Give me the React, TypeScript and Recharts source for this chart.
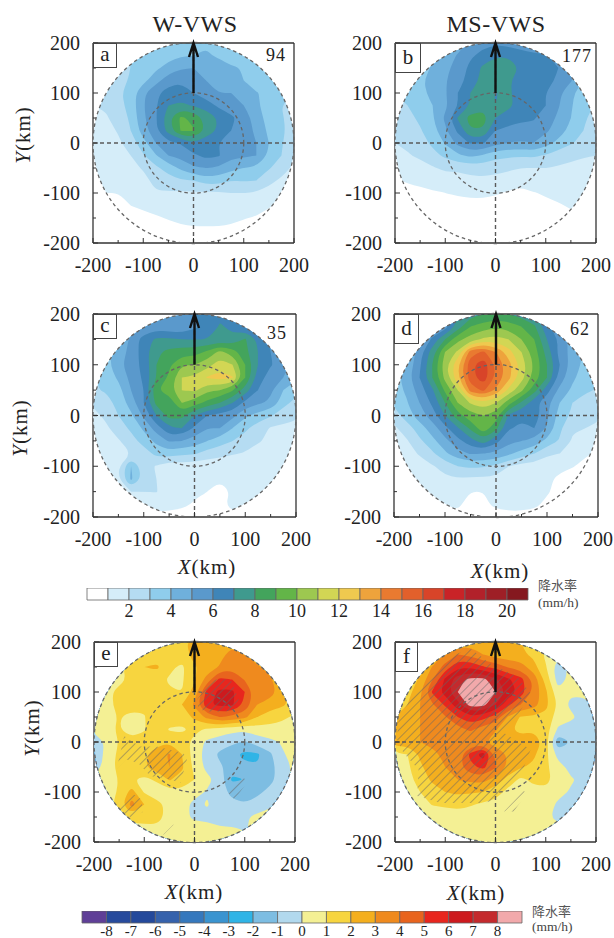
import React from "react";
import { Bar, BarChart, ReferenceDot, Scatter, ScatterChart, XAxis, YAxis } from "recharts";

const SERIF = "'Liberation Serif', 'Times New Roman', serif";

// rain rate (mm/h) on a 25 km grid, rows y = 200 .. -200, columns x = -200 .. 200
const gridA = [
  [3, 3, 3, 3, 3, 3.4, 3.6, 3.8, 3.9, 3.9, 3.7, 3.4, 3.3, 3, 3, 3, 3],
  [2, 2, 2.5, 3, 3.2, 3.4, 3.6, 3.9, 4, 4.1, 3.9, 3.3, 3.7, 3.6, 3, 3, 3],
  [2, 2, 2.6, 3, 3.3, 3.8, 4.4, 4.9, 5, 4.6, 4.3, 4.2, 3.9, 3.5, 3.3, 3, 3],
  [2, 2, 2.7, 3.1, 3.7, 4.6, 5.6, 5.9, 5.5, 5, 4.6, 4.3, 4, 3.2, 3.4, 3.2, 3],
  [2, 2.2, 2.8, 3.4, 4.8, 5.8, 6.4, 6.3, 6, 5.4, 5, 5, 4.9, 4.1, 3.6, 3.4, 3],
  [2, 2.1, 2.6, 3.4, 4.9, 5.9, 7, 7.3, 6.9, 6.6, 5.8, 5.4, 5, 4.2, 3.5, 3, 2.8],
  [1.8, 1.9, 2.3, 3.2, 4.8, 5.9, 7.7, 9.2, 8.7, 7.6, 6.9, 6.2, 5.6, 4.5, 3.6, 3.1, 2.6],
  [1.4, 1.6, 2.1, 3, 4.5, 5.8, 7.4, 9.1, 9.1, 7.8, 6.8, 6, 5.7, 4.7, 3.8, 3.2, 2.5],
  [1.2, 1.4, 1.8, 2.5, 3.6, 5, 5.7, 6.1, 6.9, 6.3, 6, 5.6, 5.4, 5, 4, 3.1, 2.3],
  [1.2, 1.3, 1.6, 2, 2.9, 3.9, 5, 5.3, 5.8, 6.3, 6.1, 5.3, 5.2, 5, 3.8, 3, 2.1],
  [1.1, 1.2, 1.4, 1.7, 2.1, 2.8, 3.4, 4.2, 4.9, 5, 4.9, 4.3, 4, 3.8, 3.1, 2.5, 1.8],
  [1.1, 1.1, 1.2, 1.4, 1.7, 2.3, 2.6, 2.9, 3, 3.5, 3.4, 3, 3.1, 3, 2.3, 1.8, 1.4],
  [1, 1, 1, 1.2, 1.5, 1.9, 1.9, 1.8, 1.9, 1.8, 1.9, 2, 2, 1.9, 1.6, 1.2, 1.1],
  [0.6, 0.7, 0.8, 1, 1.2, 1.3, 1.4, 1.4, 1.5, 1.5, 1.5, 1.6, 1.5, 1.5, 1.1, 0.9, 0.7],
  [0.5, 0.5, 0.5, 0.6, 0.7, 0.9, 1.05, 1.2, 1.3, 1.3, 1.3, 1.25, 1.05, 0.9, 0.6, 0.5, 0.5],
  [0.4, 0.4, 0.4, 0.4, 0.5, 0.6, 0.7, 0.8, 0.85, 0.85, 0.85, 0.75, 0.6, 0.5, 0.4, 0.4, 0.4],
  [0.4, 0.4, 0.4, 0.4, 0.4, 0.4, 0.4, 0.4, 0.4, 0.4, 0.4, 0.4, 0.4, 0.4, 0.4, 0.4, 0.4],
];

const gridB = [
  [4, 4, 4, 4, 4, 4.5, 5.2, 5.6, 5.8, 5.6, 5.3, 5, 5, 4, 4, 4, 4],
  [3.5, 3.5, 3.5, 4, 4.4, 5.1, 5.8, 6.4, 6.9, 6.9, 6.6, 6.3, 6.1, 5.6, 4.5, 4, 4],
  [3.4, 3.4, 3.6, 4.1, 4.8, 5.3, 6.3, 7.2, 7.5, 7.5, 6.9, 6.4, 6.2, 6, 5.4, 4, 3.6],
  [3.2, 3.4, 3.8, 4.4, 4.9, 5.7, 6.3, 7.4, 7.4, 7.2, 6.4, 6.3, 6.2, 5.9, 5.1, 4, 3.4],
  [3, 3.2, 3.8, 4.2, 4.9, 6, 7, 7.5, 6.95, 7.2, 6.5, 6.1, 6, 5.3, 4.2, 3.5, 3],
  [2.8, 3, 3.5, 4, 4.8, 6, 7.1, 7.6, 7, 7.2, 6.7, 6.2, 6, 5.1, 4.1, 3.4, 2.9],
  [2.3, 2.7, 3.2, 3.9, 5.2, 7.1, 8.4, 8.4, 7, 6.6, 6.3, 6.1, 5.6, 4.8, 4, 3.2, 2.5],
  [2.1, 2.4, 2.9, 3.6, 4.8, 6.2, 7.9, 7.9, 6, 5.7, 5.4, 5.7, 5.2, 4.5, 3.7, 3, 2.4],
  [2, 2.2, 2.6, 3.2, 4.1, 5.3, 6.1, 6.1, 5.3, 5, 4.9, 5, 4.4, 3.7, 3.1, 2.7, 2.3],
  [1.7, 1.9, 2.2, 2.7, 3.2, 3.8, 4.2, 3.9, 3.3, 3.2, 3.1, 3.2, 2.9, 2.5, 2.2, 2.1, 2],
  [1.2, 1.4, 1.6, 1.9, 2.2, 2.2, 2.4, 2.4, 2.3, 2.2, 2, 2, 2, 1.9, 1.8, 1.6, 1.5],
  [0.9, 1.1, 1.2, 1.35, 1.5, 1.6, 1.7, 1.8, 1.7, 1.5, 1.2, 1.4, 1.6, 1.6, 1.5, 1.4, 1.3],
  [0.7, 0.7, 0.8, 0.9, 1, 1.1, 1.2, 1.2, 1.1, 0.9, 0.85, 0.95, 1.1, 1.3, 1.3, 1.2, 1.1],
  [0.4, 0.4, 0.5, 0.5, 0.6, 0.7, 0.7, 0.7, 0.6, 0.6, 0.6, 0.6, 0.8, 0.9, 1.1, 1.1, 1],
  [0.3, 0.3, 0.3, 0.3, 0.3, 0.3, 0.3, 0.3, 0.3, 0.3, 0.3, 0.3, 0.4, 0.6, 0.8, 0.8, 0.8],
  [0.3, 0.3, 0.3, 0.3, 0.3, 0.3, 0.3, 0.3, 0.3, 0.3, 0.3, 0.3, 0.3, 0.3, 0.3, 0.3, 0.3],
  [0.3, 0.3, 0.3, 0.3, 0.3, 0.3, 0.3, 0.3, 0.3, 0.3, 0.3, 0.3, 0.3, 0.3, 0.3, 0.3, 0.3],
];

const gridC = [
  [4, 4, 4, 4, 4.5, 5, 5.2, 5.6, 6, 6.4, 6.8, 6.4, 5.8, 5, 4, 4, 4],
  [4, 4, 4, 4.5, 5, 5.5, 5.2, 5.2, 5.8, 6.3, 7.1, 6.8, 6.2, 5.6, 5, 4.5, 4],
  [3.5, 3.8, 4.2, 5.2, 6.5, 7.2, 7.2, 7, 7, 7, 7.2, 7.2, 8.1, 6.8, 5.8, 5, 4.5],
  [3.2, 3.5, 4.5, 5.3, 6.5, 7.8, 8.3, 8.5, 8.6, 9.2, 10.3, 9.5, 8.3, 7, 6, 5.2, 4.6],
  [3, 3.6, 4.7, 5.5, 6.3, 8, 8.8, 9.9, 10, 10.6, 11.5, 11, 9, 7, 6.1, 5.5, 4.5],
  [2.9, 3.3, 4.2, 5.3, 6.2, 8, 9.2, 11, 11.2, 12.1, 12.4, 12.1, 9, 6.5, 5.5, 5, 4.2],
  [2.9, 3.1, 3.6, 5, 6, 8.9, 9.5, 11, 11.2, 10.2, 10, 9.1, 7.5, 6, 5.2, 4, 3.5],
  [2.2, 2.6, 3.3, 4.5, 6, 8.3, 8.4, 10, 9.5, 8.7, 8, 7, 5.7, 5.2, 4.8, 3.4, 2.6],
  [1.7, 2.2, 3, 3.8, 5.2, 7, 8.4, 8.3, 7, 6, 5.6, 5.3, 4.2, 3.6, 3.1, 2.4, 2.2],
  [1.6, 1.8, 2.5, 3.2, 4.2, 5.5, 6.8, 7, 5.8, 5, 5, 4, 3.2, 2.5, 1.9, 1.8, 1.7],
  [1.4, 1.5, 1.9, 2.6, 3.4, 4.3, 5.1, 5, 4.6, 4, 3.5, 3, 2.6, 2.1, 1.8, 1.7, 1.6],
  [1.3, 1.4, 1.7, 2, 2.5, 3.3, 3.5, 3.2, 3.1, 2.6, 2.3, 2.1, 1.9, 1.6, 1.5, 1.4, 1.3],
  [1.3, 1.4, 1.9, 4, 2.4, 1.9, 1.4, 1.4, 1.4, 1.3, 1.3, 1.2, 1.2, 1.2, 1.2, 1.2, 1.2],
  [1.2, 1.2, 1.9, 4.2, 2.6, 2, 1.3, 1.3, 1.2, 1.2, 1.1, 1.1, 1.2, 1.3, 1.3, 1.3, 1.2],
  [1.2, 1.2, 1.5, 2, 2, 2.05, 1.5, 1.3, 1.1, 1, 0.7, 1.1, 1.3, 1.3, 1.5, 1.2, 1.2],
  [1, 1, 1.1, 1.2, 1.3, 1.3, 1.2, 1.1, 0.95, 0.6, 0.8, 1.2, 1.2, 1.2, 1.1, 1, 1],
  [0.8, 0.8, 0.8, 0.8, 0.8, 0.8, 0.8, 0.8, 0.8, 0.8, 0.8, 0.8, 0.8, 0.8, 0.8, 0.8, 0.8],
];

const gridD = [
  [5, 5, 5, 5.5, 6, 7, 7.5, 8, 8.2, 8, 7.5, 7, 6, 5, 5, 5, 5],
  [4.5, 4.5, 4.5, 5, 5.5, 7.5, 9, 9.5, 9.8, 9.6, 9, 8.2, 6.3, 5, 4.5, 4.5, 4],
  [4.2, 4.2, 4.5, 6.2, 8, 9.7, 10.5, 11.2, 11.4, 11, 10, 9, 7, 5.8, 4.5, 4, 3.8],
  [4, 4, 5.5, 7.5, 10, 11.2, 14.5, 15.2, 14, 12.4, 11, 9.5, 7.6, 5.6, 4.6, 3.8, 3.6],
  [3.6, 4.2, 5.8, 8, 10.6, 12.8, 15.7, 16.6, 14.8, 13.4, 11.6, 9.8, 8, 6, 4.5, 3.7, 3.4],
  [3.5, 4.5, 6, 8, 10.3, 12.8, 15.6, 16.6, 14.8, 13.3, 11.4, 9.6, 8, 5.6, 4.2, 3.5, 3.2],
  [3.5, 4.2, 5.5, 6.8, 9.2, 11, 14.4, 15.2, 13.8, 11.7, 10.2, 8.4, 6.4, 4.7, 3.8, 3.2, 2.9],
  [3.2, 3.9, 5, 6.2, 8, 10, 11.1, 11.7, 11, 9.4, 7.8, 6.4, 5.3, 4, 3, 2.5, 2.2],
  [2.5, 3.5, 4.5, 5.5, 7, 8.6, 9.6, 10, 9.5, 6.8, 6.2, 6.6, 5.2, 3.5, 2.8, 2.3, 2.1],
  [1.8, 2.5, 3.5, 4.5, 5.7, 6.9, 8.2, 9.7, 8.3, 6.1, 5.8, 6, 4.9, 3.2, 2.1, 2, 1.9],
  [1.5, 1.9, 2.8, 3.7, 4.7, 5.7, 6.6, 7.6, 6.3, 5.3, 5, 4.7, 3.7, 2.9, 1.9, 1.8, 1.8],
  [1.3, 1.6, 2.1, 2.8, 3.8, 4.6, 5.1, 5, 4.8, 4.2, 3.6, 3, 2.2, 2, 1.7, 1.1, 0.9],
  [1.1, 1.3, 1.6, 1.9, 2.4, 3, 3.2, 3.1, 2.8, 2, 1.6, 1.5, 1.3, 1.2, 1.05, 0.8, 0.7],
  [1, 1.1, 1.4, 1.6, 1.8, 1.9, 1.8, 1.8, 1.7, 1.4, 1.3, 1.3, 1.15, 0.85, 0.6, 0.6, 0.5],
  [0.9, 1, 1.2, 1.3, 1.3, 1.3, 1, 1, 1.2, 1.25, 1.3, 1.2, 1.05, 0.85, 0.6, 0.5, 0.4],
  [0.8, 0.9, 1, 1.1, 1.1, 1.1, 0.8, 0.9, 1.1, 1.2, 1.2, 1.1, 0.9, 0.7, 0.5, 0.4, 0.4],
  [0.8, 0.8, 0.8, 0.8, 0.8, 0.8, 0.8, 0.8, 0.8, 0.8, 0.8, 0.8, 0.8, 0.6, 0.4, 0.4, 0.4],
];

// rain rate difference (mm/h)
const gridE = [
  [1, 1, 1, 1, 1.1, 1.3, 1.5, 1.8, 2.3, 2.6, 2.5, 2.5, 2.2, 1.5, 1, 1, 1],
  [0.8, 0.8, 0.9, 1, 1.2, 1.4, 1.5, 1.6, 2.3, 2.8, 2.6, 3.5, 3.2, 1.8, 1.2, 1, 1],
  [0.8, 0.8, 0.9, 1.2, 2, 2.2, 1.2, 0.8, 1.9, 2.4, 3.1, 3.6, 3.7, 3.2, 2.6, 1.5, 1],
  [0.8, 0.8, 0.9, 1.1, 1.2, 1.3, 0.9, 0.85, 1.9, 3.4, 5.3, 5, 3.9, 3.2, 3.2, 2.2, 1.5],
  [0.8, 0.9, 1.1, 1.4, 1.4, 1.2, 1.1, 1, 2.4, 5.4, 6.2, 6.2, 5, 3.2, 3.4, 2.5, 1.8],
  [0.7, 0.9, 1.1, 1.4, 1.3, 1.4, 1.6, 2, 3.2, 5.8, 6.3, 6.2, 4.7, 3, 2.6, 2.2, 1.4],
  [0.6, 0.7, 1.05, 0.7, 0.9, 2, 1.5, 1.5, 2.2, 3.3, 4, 3.8, 3.3, 2, 1.4, 1.1, 0.9],
  [0.3, 0.9, 1.05, 0.6, 0.9, 1.8, 0.9, 0.8, 1.3, 0.8, 0.6, 0.3, 0.2, 0.5, 0.7, 0.8, 0.9],
  [-0.7, 0.2, 1.05, 1.3, 1.5, 1.6, 1.9, 1.6, 0.6, -0.2, -0.5, -0.8, -1.1, -0.5, -0.3, 0.1, 0.4],
  [-0.5, 0.2, 1.3, 1.4, 1.8, 2.6, 3.1, 2, 0.5, -0.4, -1.2, -1.7, -2.3, -2.2, -1.2, -0.1, 0.3],
  [-0.4, 0.3, 1.4, 1.3, 1.9, 2.5, 3, 2.2, 0.7, -0.3, -0.8, -1.5, -1.7, -1.9, -1.4, -0.4, 0.2],
  [0.3, 0.5, 1.05, 1.1, 0.7, 1.2, 2.1, 1.6, 1, 0.3, -0.4, -2.2, -2, -1.8, -1.4, -0.3, 0.3],
  [0.5, 0.6, 1.1, 2.4, 0.9, 0.3, 0.6, 0.7, 0.4, -0.1, -0.7, -1.2, -1.6, -1.3, -0.6, -0.1, 0.3],
  [0.5, 0.6, 1.4, 3.4, 2, 1.4, 0.6, 0.4, -0.3, 0.1, -0.5, -0.8, -0.9, -0.5, -0.1, 0.2, 0.4],
  [0.5, 0.6, 0.8, 1.4, 1.5, 1.4, 0.6, 0.3, -0.2, -0.3, -0.9, -0.7, -0.1, 0.2, 0.2, 0.3, 0.4],
  [0.5, 0.5, 0.5, 0.5, 0.6, 0.7, 0.5, 0.4, 0.5, 0.5, 0.3, 0.2, -0.1, 0.3, 0.4, 0.4, 0.4],
  [0.5, 0.5, 0.5, 0.5, 0.5, 0.5, 0.5, 0.5, 0.5, 0.5, 0.5, 0.5, 0.5, 0.5, 0.5, 0.5, 0.5],
];

const gridF = [
  [1, 1, 1, 1.2, 1.5, 2, 2.5, 2.4, 2.2, 2.2, 2, 1.5, 1, 0.6, 0.5, 0.5, 0.5],
  [1, 1, 1.2, 1.8, 3.2, 4, 3.7, 3, 2.5, 2.3, 2.2, 1.8, 0.8, 0.4, 0.5, 0.5, 0.5],
  [1, 1.1, 1.8, 3.1, 4.4, 5.8, 5.8, 5.1, 4.7, 3.9, 3.5, 2.4, 1.1, -0.6, 0.3, 0.5, 0.5],
  [1, 1.2, 2.2, 4, 6.2, 7.6, 8.3, 8.4, 7.2, 6.2, 5.4, 3.8, 1.6, -0.5, 0.3, 0.6, 0.6],
  [1, 1.6, 2.8, 5.2, 6.4, 8, 8.9, 8.8, 8, 6.7, 5.6, 3.8, 2.2, 0.3, 0.2, 0.4, 0.6],
  [1.5, 2, 3, 3.9, 5.2, 6.6, 8.5, 8.4, 7, 5.3, 4, 3.5, 2.3, 0.8, -0.3, -0.5, 0.2],
  [2, 2.4, 3, 3.4, 3.9, 5, 5.7, 5.4, 4.6, 2.9, 1.9, 1.8, 1.7, 0.5, 0.3, -0.5, -0.4],
  [2.4, 2.7, 3, 3.2, 3.3, 3.6, 4.2, 3.5, 3.1, 2.2, 1.7, 1.8, 1.5, -0.2, -0.6, -0.7, -0.8],
  [2.6, 2.6, 3, 3.1, 3.3, 3.5, 3, 3.2, 2.5, 2.2, 2.5, 2.8, 1.5, -1.8, -1, -0.7, -0.6],
  [0.7, 1, 2.2, 2.9, 3.1, 3.3, 5.3, 6.5, 3.7, 2.9, 2.7, 2.2, 1.3, -0.4, -0.5, -0.6, -0.3],
  [0.5, 0.8, 1.8, 2.6, 3, 3.6, 4.7, 5.3, 4.1, 2.8, 2.1, 1.8, 1.2, 0.4, -0.3, -0.5, -0.1],
  [0.5, 0.6, 1.5, 2.2, 2.9, 3, 3.3, 3.3, 2.7, 1.6, 0.8, 1.2, 1.4, 0.4, 0.1, -0.2, 0.2],
  [0.5, 0.5, 1, 1.6, 2, 2.2, 2.1, 2, 1.4, 0.7, 0.5, 0.7, 0.6, 0.3, -0.1, -0.4, 0.2],
  [0.5, 0.5, 0.7, 1.05, 1.15, 1.3, 1.1, 0.8, 0.7, 0.5, 0.5, 0.5, 0.5, -0.2, -0.6, -0.3, 0.2],
  [0.5, 0.5, 0.5, 0.5, 0.5, 0.5, 0.5, 0.5, 0.5, 0.5, 0.5, 0.5, 0.3, -0.4, -0.6, -0.2, 0.2],
  [0.5, 0.5, 0.5, 0.5, 0.5, 0.5, 0.5, 0.5, 0.5, 0.5, 0.5, 0.5, 0.5, 0.5, 0.5, 0.5, 0.5],
  [0.5, 0.5, 0.5, 0.5, 0.5, 0.5, 0.5, 0.5, 0.5, 0.5, 0.5, 0.5, 0.5, 0.5, 0.5, 0.5, 0.5],
];

// hatched (significant) regions in km
const hatchE = [
  [[-155, -55], [-140, 12], [-108, -9], [-75, -9], [-22, -22], [-15, -35], [-28, -82], [-48, -75], [-88, -68], [-112, -42], [-135, -35]],
  [[-148, -125], [-125, -102], [-105, -115], [-103, -140], [-125, -152], [-148, -135]],
  [[-62, -185], [-42, -165], [-38, -170], [-58, -190]],
  [[5, 85], [35, 125], [72, 125], [88, 85], [75, 62], [35, 60], [8, 65]],
  [[65, -100], [95, -68], [105, -80], [80, -115]],
];
const hatchF = [
  [[-196, 5], [-193, 44], [-163, 98], [-130, 131], [-90, 171], [-50, 187], [-10, 157], [43, 131], [70, 98], [43, 51], [17, 18], [70, -15], [50, -68], [3, -115], [-23, -122], [-110, -122], [-156, -108], [-153, -55], [-183, -22]],
  [[17, -139], [56, -98], [63, -102], [36, -139]],
];

const rainColors = ["#ffffff", "#d5edf9", "#b5dcf2", "#8fcdec", "#6fb0dc", "#5a99cc", "#3f85b8", "#3f9a8e", "#43a45c", "#63b548", "#9dc850", "#d2d654", "#efc94f", "#eea33c", "#e97a30", "#e2602b", "#d84429", "#c92327", "#b2212a", "#9e1f26", "#85181f"];
const diffColors = ["#5f3f97", "#274a9c", "#24499b", "#3662ac", "#3578bd", "#3a94d0", "#2fb4e6", "#7dbde2", "#b2d9ee", "#f4f094", "#f7d53f", "#f4af1e", "#ef8a1e", "#e8641e", "#e8261e", "#cd1a1e", "#c42a2d", "#f2a9ab"];
const rainTicks = [2, 4, 6, 8, 10, 12, 14, 16, 18, 20];
const diffTicks = [-8, -7, -6, -5, -4, -3, -2, -1, 0, 1, 2, 3, 4, 5, 6, 7, 8];
const axisTicks = [-200, -150, -100, -50, 0, 50, 100, 150, 200];

const ML = 60;
const MT = 10;
const MR = 20;
const MB = 35;

type Pt = { x: number | null; y: number | null };

const km = (i: number) => Math.max(-200, Math.min(200, -200 + i * 25));

// rings of the region value >= level, split by null points
function contourPoints(grid: number[][], level: number): Pt[] {
  const n = 19;
  const val = (r: number, c: number) => (r < 1 || c < 1 || r > 17 || c > 17 ? -100 : grid[r - 1][c - 1]);
  const toXY = (r: number, c: number) => [km(c - 1), km(17 - r)];
  const cross = new Map<string, number[]>();
  const links = new Map<string, string[]>();
  const crossing = (r1: number, c1: number, r2: number, c2: number) => {
    const key = `${r1},${c1},${r2},${c2}`;
    if (!cross.has(key)) {
      const a = val(r1, c1);
      const b = val(r2, c2);
      const t = (level - a) / (b - a);
      const p = toXY(r1, c1);
      const q = toXY(r2, c2);
      cross.set(key, [p[0] + (q[0] - p[0]) * t, p[1] + (q[1] - p[1]) * t]);
    }
    return key;
  };
  const link = (a: string, b: string) => {
    links.set(a, [...(links.get(a) || []), b]);
    links.set(b, [...(links.get(b) || []), a]);
  };
  for (let r = 0; r < n - 1; r++) {
    for (let c = 0; c < n - 1; c++) {
      const tl = val(r, c) >= level;
      const tr = val(r, c + 1) >= level;
      const br = val(r + 1, c + 1) >= level;
      const bl = val(r + 1, c) >= level;
      const edges: string[] = [];
      if (tl !== tr) edges.push(crossing(r, c, r, c + 1));
      if (tr !== br) edges.push(crossing(r, c + 1, r + 1, c + 1));
      if (br !== bl) edges.push(crossing(r + 1, c, r + 1, c + 1));
      if (bl !== tl) edges.push(crossing(r, c, r + 1, c));
      if (edges.length === 2) link(edges[0], edges[1]);
      if (edges.length === 4) {
        link(edges[0], edges[3]);
        link(edges[1], edges[2]);
      }
    }
  }
  const seen = new Set<string>();
  const out: Pt[] = [];
  links.forEach((_, start) => {
    if (seen.has(start)) return;
    let cur: string | undefined = start;
    while (cur && !seen.has(cur)) {
      seen.add(cur);
      const p = cross.get(cur) as number[];
      out.push({ x: p[0], y: p[1] });
      cur = (links.get(cur) as string[]).find((k) => !seen.has(k));
    }
    out.push({ x: null, y: null });
  });
  return out;
}

// smooth closed path through the rings, drawn from the pixel points the scatter hands over
function ringsPath(points: any[], smooth: boolean) {
  const rings: number[][][] = [];
  let ring: number[][] = [];
  points.forEach((p) => {
    if (p.x == null || p.y == null) {
      if (ring.length) rings.push(ring);
      ring = [];
    } else {
      ring.push([p.x, p.y]);
    }
  });
  if (ring.length) rings.push(ring);
  return rings
    .map((rg) => {
      if (!smooth) return "M" + rg.map((p) => p.join(",")).join("L") + "Z";
      const mid = (a: number[], b: number[]) => [(a[0] + b[0]) / 2, (a[1] + b[1]) / 2];
      const first = mid(rg[rg.length - 1], rg[0]);
      let d = `M${first[0]},${first[1]}`;
      rg.forEach((p, i) => {
        const m = mid(p, rg[(i + 1) % rg.length]);
        d += `Q${p[0]},${p[1]} ${m[0]},${m[1]}`;
      });
      return d + "Z";
    })
    .join("");
}

const noDot = () => <g />;

function guide(key: string, data: Pt[], stroke: string, width: number, dash?: string) {
  return (
    <Scatter
      key={key}
      data={data}
      isAnimationActive={false}
      shape={noDot}
      line={(lp: any) => {
        const [a, b] = lp.points;
        return <path d={`M${a.x},${a.y}L${b.x},${b.y}`} fill="none" stroke={stroke} strokeWidth={width} strokeDasharray={dash} />;
      }}
    />
  );
}

function Tick({ x, y, payload, horizontal }: any) {
  const v = payload.value;
  const major = v % 100 === 0;
  const len = major ? 5 : 3;
  return horizontal ? (
    <g>
      <line x1={x} x2={x} y1={y} y2={y - len} stroke="#333" />
      {major && (
        <text x={x} y={y + 29} textAnchor="middle" fontFamily={SERIF} fontSize={20} fill="#222">
          {v}
        </text>
      )}
    </g>
  ) : (
    <g>
      <line x1={x} x2={x + len} y1={y} y2={y} stroke="#333" />
      {major && (
        <text x={x - 13} y={y + 7} textAnchor="end" fontFamily={SERIF} fontSize={20} fill="#222">
          {v}
        </text>
      )}
    </g>
  );
}

function Panel({ id, grid, base, colors, left, top, w, h, hatch, letter, boxW, boxH, count, countX, countY }: any) {
  const cx = ML + w / 2;
  const cy = MT + h / 2;
  const clip = `clip-${id}`;
  const levels = colors.map((_: string, i: number) => i + base);
  const hatchData: Pt[] = [];
  (hatch || []).forEach((poly: number[][]) => {
    poly.forEach((p) => hatchData.push({ x: p[0], y: p[1] }));
    hatchData.push({ x: null, y: null });
  });
  return (
    <>
      <svg width={0} height={0} style={{ position: "absolute" }}>
        <defs>
          <clipPath id={clip}>
            <circle cx={cx} cy={cy} r={w / 2} />
          </clipPath>
          <pattern id={`hatch-${id}`} width={6} height={6} patternUnits="userSpaceOnUse" patternTransform="rotate(45)">
            <line x1={0} x2={0} y1={0} y2={6} stroke="#666" strokeWidth={1} />
          </pattern>
        </defs>
      </svg>
      <div style={{ position: "absolute", left: left - ML, top: top - MT }}>
        <ScatterChart width={w + ML + MR} height={h + MT + MB} margin={{ top: MT, right: MR, bottom: 0, left: 0 }}>
          <XAxis
            type="number"
            dataKey="x"
            domain={[-200, 200]}
            ticks={axisTicks}
            interval={0}
            height={MB}
            tickSize={0}
            tickMargin={0}
            tickLine={false}
            stroke="#333"
            strokeWidth={1.3}
            tick={(p: any) => <Tick {...p} horizontal />}
          />
          <YAxis
            type="number"
            dataKey="y"
            domain={[-200, 200]}
            ticks={axisTicks}
            interval={0}
            width={ML}
            tickSize={0}
            tickMargin={0}
            tickLine={false}
            stroke="#333"
            strokeWidth={1.3}
            tick={(p: any) => <Tick {...p} />}
          />
          {levels.map((lv: number, i: number) => (
            <Scatter
              key={lv}
              data={contourPoints(grid, lv)}
              isAnimationActive={false}
              shape={noDot}
              line={(lp: any) => (
                <path d={ringsPath(lp.points, true)} fill={colors[i]} fillRule="evenodd" stroke="none" clipPath={`url(#${clip})`} />
              )}
            />
          ))}
          {hatchData.length > 0 && (
            <Scatter
              data={hatchData}
              isAnimationActive={false}
              shape={noDot}
              line={(lp: any) => (
                <path d={ringsPath(lp.points, false)} fill={`url(#hatch-${id})`} stroke="none" clipPath={`url(#${clip})`} />
              )}
            />
          )}
          {guide("v", [{ x: 0, y: -200 }, { x: 0, y: 200 }], "#5a5a5a", 1.4, "4 3")}
          {guide("h", [{ x: -200, y: 0 }, { x: 200, y: 0 }], "#5a5a5a", 1.4, "4 3")}
          {guide("top", [{ x: -200, y: 200 }, { x: 200, y: 200 }], "#333", 1.3)}
          {guide("right", [{ x: 200, y: 200 }, { x: 200, y: -200 }], "#333", 1.3)}
          <ReferenceDot x={0} y={0} r={w / 2} fill="none" stroke="#666" strokeWidth={1.3} strokeDasharray="3.5 3" />
          <ReferenceDot x={0} y={0} r={w / 4} fill="none" stroke="#666" strokeWidth={1.3} strokeDasharray="3.5 3" />
          <Scatter
            data={[{ x: 0, y: 100 }, { x: 0, y: 200 }]}
            isAnimationActive={false}
            shape={noDot}
            line={(lp: any) => {
              const [a, b] = lp.points;
              return (
                <path
                  d={`M${a.x},${a.y}L${b.x},${b.y}M${b.x - 4.5},${b.y + 14}L${b.x},${b.y}L${b.x + 4.5},${b.y + 14}`}
                  fill="none"
                  stroke="#111"
                  strokeWidth={2.4}
                />
              );
            }}
          />
        </ScatterChart>
      </div>
      <div
        style={{
          position: "absolute",
          left,
          top,
          width: boxW,
          height: boxH,
          boxSizing: "border-box",
          border: "1px solid #444",
          background: "#fff",
          textAlign: "center",
          fontFamily: SERIF,
          fontSize: 21,
          lineHeight: `${boxH - 4}px`,
          color: "#222",
        }}
      >
        {letter}
      </div>
      {count && (
        <div style={{ position: "absolute", left: countX, top: countY - 11, fontFamily: SERIF, fontSize: 18, lineHeight: "22px", letterSpacing: 1, color: "#222" }}>
          {count}
        </div>
      )}
    </>
  );
}

function ColorBar({ colors, ticks, offset, left, top, w, fontSize, labelGap }: any) {
  const row: Record<string, number | string> = { name: "bar" };
  colors.forEach((_: string, i: number) => {
    row[`b${i}`] = 1;
  });
  const H = 12;
  return (
    <div style={{ position: "absolute", left: left - 15, top }}>
      <BarChart width={w + 30} height={H + 26} layout="vertical" data={[row]} margin={{ top: 0, right: 15, bottom: 0, left: 15 }} barCategoryGap={0}>
        <XAxis
          type="number"
          domain={[0, colors.length]}
          ticks={ticks.map((t: number) => t + offset)}
          interval={0}
          height={26}
          axisLine={false}
          tickLine={false}
          tickSize={0}
          tickMargin={0}
          tick={(p: any) => (
            <text x={p.x} y={p.y + labelGap} textAnchor="middle" fontFamily={SERIF} fontSize={fontSize} fill="#222">
              {p.payload.value - offset}
            </text>
          )}
        />
        <YAxis type="category" dataKey="name" hide />
        {colors.map((c: string, i: number) => (
          <Bar key={c + i} dataKey={`b${i}`} stackId="cb" fill={c} stroke="#666" strokeWidth={0.8} isAnimationActive={false} />
        ))}
      </BarChart>
    </div>
  );
}

function AxisName({ name, x, y, rotate }: any) {
  return (
    <div
      style={{
        position: "absolute",
        left: x - 60,
        top: y - 14,
        width: 120,
        height: 28,
        lineHeight: "28px",
        textAlign: "center",
        fontFamily: SERIF,
        fontSize: 21,
        letterSpacing: 1,
        color: "#222",
        transform: rotate ? "rotate(-90deg)" : undefined,
      }}
    >
      <i>{name}</i>(km)
    </div>
  );
}

function Title({ text, x }: any) {
  return (
    <div style={{ position: "absolute", left: x - 70, top: 9, width: 140, textAlign: "center", fontFamily: SERIF, fontSize: 24, lineHeight: "30px", letterSpacing: 0.5, color: "#222" }}>
      {text}
    </div>
  );
}

function Unit({ x, y1, y2 }: any) {
  return (
    <>
      <div style={{ position: "absolute", left: x, top: y1 - 9, fontFamily: "'Noto Sans CJK SC'", fontSize: 13, lineHeight: "18px", color: "#555", whiteSpace: "nowrap" }}>降水率</div>
      <div style={{ position: "absolute", left: x, top: y2 - 9, fontFamily: SERIF, fontSize: 13.5, lineHeight: "18px", color: "#444", whiteSpace: "nowrap" }}>(mm/h)</div>
    </>
  );
}

export default function App() {
  return (
    <div style={{ position: "absolute", left: 0, top: 0, width: 614, height: 938, overflow: "hidden", background: "#fff" }}>
      <Title text="W-VWS" x={195} />
      <Title text="MS-VWS" x={496} />
      <Panel id="a" grid={gridA} base={1} colors={rainColors.slice(1)} left={93} top={43} w={201} h={200} letter="a" boxW={24} boxH={25} count="94" countX={266} countY={55} />
      <Panel id="b" grid={gridB} base={1} colors={rainColors.slice(1)} left={395} top={43} w={201} h={200} letter="b" boxW={26} boxH={30} count="177" countX={562} countY={56} />
      <Panel id="c" grid={gridC} base={1} colors={rainColors.slice(1)} left={93} top={314} w={203} h={203} letter="c" boxW={24} boxH={25} count="35" countX={267} countY={333} />
      <Panel id="d" grid={gridD} base={1} colors={rainColors.slice(1)} left={394} top={314} w={204} h={203} letter="d" boxW={25} boxH={30} count="62" countX={570} countY={329} />
      <Panel id="e" grid={gridE} base={-9} colors={diffColors} left={94} top={642} w={201} h={200} letter="e" boxW={24} boxH={25} hatch={hatchE} />
      <Panel id="f" grid={gridF} base={-9} colors={diffColors} left={395} top={642} w={201} h={200} letter="f" boxW={23} boxH={30} hatch={hatchF} />
      <AxisName name="Y" x={23} y={135} rotate />
      <AxisName name="Y" x={20} y={428} rotate />
      <AxisName name="Y" x={32} y={728} rotate />
      <AxisName name="X" x={207} y={567} />
      <AxisName name="X" x={500} y={571} />
      <AxisName name="X" x={194} y={892} />
      <AxisName name="X" x={476} y={893} />
      <ColorBar colors={rainColors} ticks={rainTicks} offset={0} left={87} top={588} w={441} fontSize={18} labelGap={17} />
      <ColorBar colors={diffColors} ticks={diffTicks} offset={9} left={82} top={911} w={440} fontSize={15} labelGap={13} />
      <Unit x={538} y1={585} y2={603} />
      <Unit x={532} y1={911} y2={927} />
    </div>
  );
}
